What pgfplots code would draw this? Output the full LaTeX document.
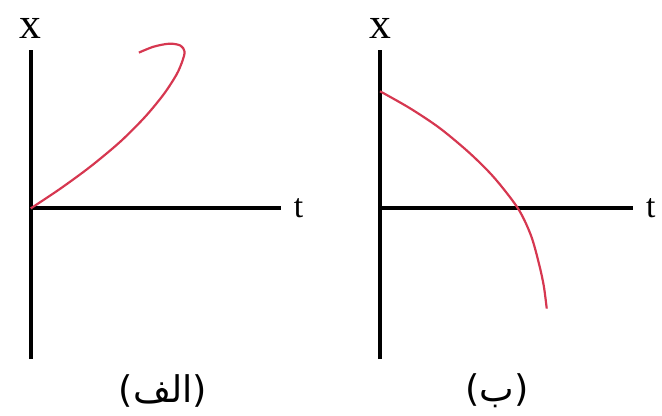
\documentclass[border=0pt]{standalone}
\usepackage{pgfplots}
\pgfplotsset{compat=1.18}
\usepackage{fontspec}
\setmainfont{Liberation Serif}
\newfontfamily\arabicfont[Script=Arabic]{DejaVu Sans}
\newfontfamily\parenfont{DejaVu Sans}
\TeXXeTstate=1

\definecolor{curvered}{RGB}{214,55,80}

% x(t) sketches (units: pixels of the reference)
\pgfplotstableread{
t   x
0   0
30  20
60  42
90  67
115 92
134 115
147 135
153 149
155 158
151 164
140 166
124 163
109 157
}\curveA
\pgfplotstableread{
t   x
0   118
30  101
60  81
90  56
115 31
139 0
152 -27
160 -55
165 -78
168 -101
}\curveB

\pgfplotsset{
  sketch/.style={
    scale only axis,
    anchor=south west,
    height=156pt,
    axis lines=middle,
    axis line style={-, line width=2pt, black},
    xtick=\empty, ytick=\empty,
    ymin=-152, ymax=160,
    clip=false,
    xlabel={t}, ylabel={x},
    every axis x label/.style={at={(rel axis cs:1,0.487)}, anchor=west, xshift=3pt, font=\fontsize{17}{17}\selectfont},
    every axis y label/.style={at={(rel axis cs:0,1)}, anchor=south, yshift=2pt, font=\fontsize{22}{22}\selectfont},
  },
}

\begin{document}
\begin{tikzpicture}
\path (0,0) rectangle (331pt,209.5pt);

\begin{axis}[sketch, at={(15.5pt,28.5pt)}, width=126pt, xmin=0, xmax=252]
\addplot[curvered, line width=1.1pt, smooth] table[x=t, y=x] {\curveA};
\end{axis}

\begin{axis}[sketch, at={(191.5pt,28.5pt)}, width=127.5pt, xmin=0, xmax=255]
\addplot[curvered, line width=1.1pt, smooth] table[x=t, y=x] {\curveB};
\end{axis}

\node[font=\fontsize{18.5}{18.5}\selectfont] at (82pt,12.5pt) {\parenfont(\arabicfont\beginR الف\endR\parenfont)};
\node[font=\fontsize{18.5}{18.5}\selectfont] at (250.5pt,12.5pt) {\parenfont(\arabicfont\beginR ب\endR\parenfont)};
\end{tikzpicture}
\end{document}
